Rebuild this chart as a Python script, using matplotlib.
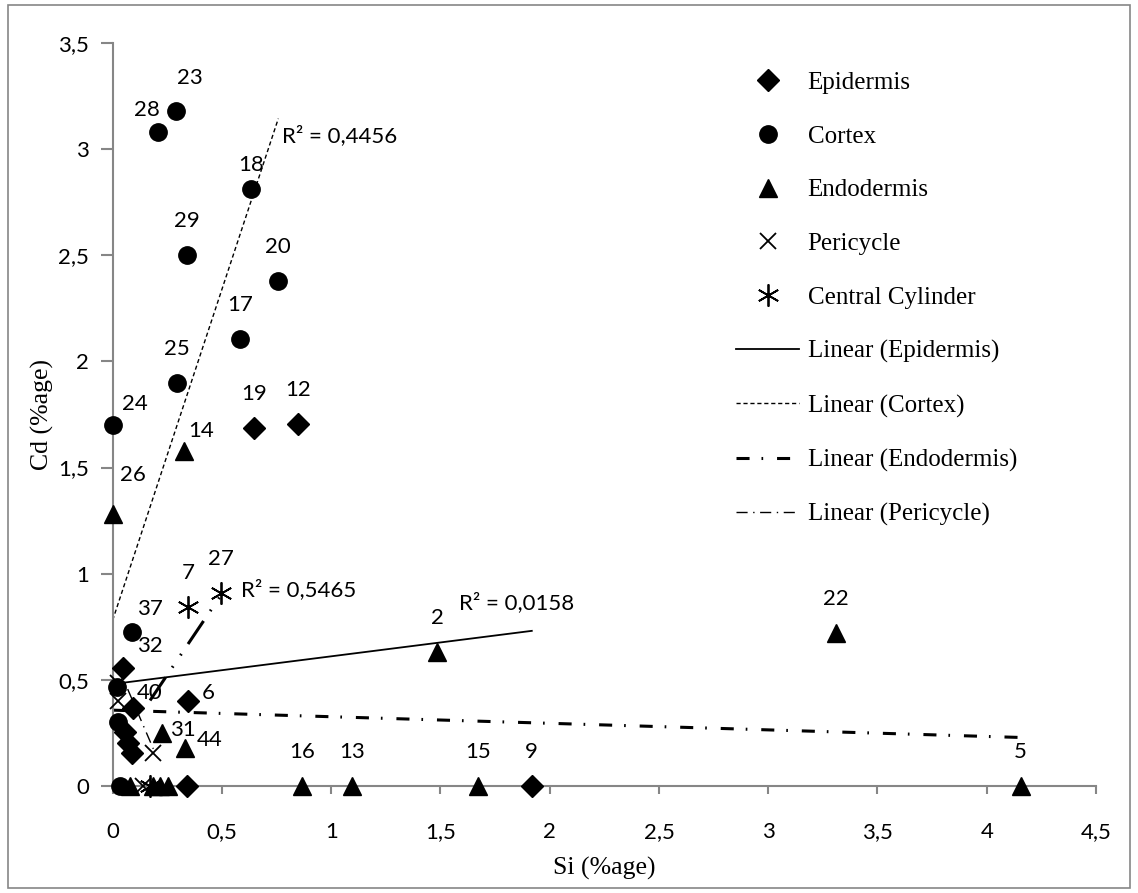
import matplotlib
matplotlib.use('Agg')
import matplotlib.pyplot as plt
from matplotlib.lines import Line2D
from matplotlib.patches import Rectangle
from matplotlib.ticker import FuncFormatter
import numpy as np

plt.rcParams['lines.scale_dashes'] = False

# --- data ---
epi_x = [0.647, 0.847, 0.346, 1.918, 0.049, 0.094, 0.056, 0.071, 0.087, 0.339]
epi_y = [1.684, 1.703, 0.40, 0.0, 0.553, 0.365, 0.255, 0.20, 0.153, 0.0]
epi_lab = ['19', '12', '6', '9', '32', '', '', '', '', '']

cor_x = [0.288, 0.209, 0.634, 0.339, 0.758, 0.583, 0.296, 0.0, 0.087, 0.018, 0.026, 0.033]
cor_y = [3.181, 3.083, 2.812, 2.501, 2.380, 2.106, 1.900, 1.700, 0.726, 0.467, 0.302, 0.0]
cor_lab = ['23', '28', '18', '29', '20', '17', '25', '24', '37', '40', '', '']

endo_x = [0.326, 0.0, 1.486, 3.31, 4.155, 0.865, 1.094, 1.673, 0.224, 0.331, 0.08, 0.186, 0.216, 0.254]
endo_y = [1.576, 1.281, 0.63, 0.721, 0.0, 0.0, 0.0, 0.0, 0.247, 0.176, 0.0, 0.0, 0.0, 0.0]
endo_lab = ['14', '26', '2', '22', '5', '16', '13', '15', '31', '44', '', '', '', '']

peri_x = [0.026, 0.026, 0.186, 0.14]
peri_y = [0.483, 0.40, 0.153, 0.0]
peri_lab = ['', '', '', '']

cc_x = [0.346, 0.494, 0.171]
cc_y = [0.841, 0.91, 0.0]
cc_lab = ['7', '27', '']

# linear trend lines as shown (intercept, slope, R²)
trend_names = ['Epidermis', 'Cortex', 'Endodermis', 'Pericycle', 'Central Cylinder']
trend_intercept = [0.479, 0.78, 0.356, 0.62, 0.14]
trend_slope = [0.1308, 3.12, -0.031, -2.4, 1.53]
trend_r2 = ['0,0158', '0,4456', '', '', '0,5465']

# label offsets in pixels (dx, dy), default is straight above
label_offset = {'23': (14, 33), '28': (-11, 22), '18': (0, 24), '24': (22, 21),
                '14': (17, 20), '26': (20, 39), '37': (18, 23), '32': (27, 22),
                '40': (33, -6), '6': (20, 8), '31': (21, 3), '44': (25, 8)}
r2_offset = [(-73, 28), (4, -17), None, None, (20, 6)]

sans = 'Lato'
serif = 'Liberation Serif'
grey = '#868686'
fs = 16

fig = plt.figure(figsize=(11.38, 8.93), dpi=100)
ax = fig.add_axes([0.099, 0.1202, 0.8641, 0.8313])
fig.patches.append(Rectangle((0.007, 0.006), 0.986, 0.988, transform=fig.transFigure,
                             fill=False, edgecolor=grey, lw=1.2))

series = [
    (epi_x, epi_y, epi_lab, dict(marker='D', ms=11)),
    (cor_x, cor_y, cor_lab, dict(marker='o', ms=12.5)),
    (endo_x, endo_y, endo_lab, dict(marker='^', ms=13.5)),
    (peri_x, peri_y, peri_lab, dict(marker='x', ms=11.5, mew=1.3)),
    (cc_x, cc_y, cc_lab, dict(marker=(6, 2, 0), ms=16, mew=1.3)),
]
line_styles = [
    dict(lw=1.3, ls='-'),
    dict(lw=1.0, ls=(0, (3, 2))),
    dict(lw=2.2, ls=(0, (9.4, 8.6, 1.2, 10))),
    dict(lw=1.0, ls=(0, (8, 4, 1, 4))),
    dict(lw=2.2, ls=(0, (20, 8.6, 1.2, 9.4, 1.2, 8.6))),
]

# trend lines over each series' x range
for (xs, ys, labs, st), a, b, r2, off, ls in zip(series, trend_intercept, trend_slope,
                                                 trend_r2, r2_offset, line_styles):
    xx = np.array([min(xs), max(xs)])
    ax.plot(xx, a + b * xx, color='black', zorder=2, **ls)
    if r2:
        ax.annotate('R² = ' + r2, (xx[1], a + b * xx[1]), xytext=off,
                    textcoords='offset pixels', ha='left', va='center',
                    fontsize=fs, family=sans)

# points and their labels
for xs, ys, labs, st in series:
    ax.plot(xs, ys, ls='none', color='black', mfc='black', mec='black',
            clip_on=False, zorder=3, **st)
    for x, y, t in zip(xs, ys, labs):
        if t:
            dx, dy = label_offset.get(t, (0, 34))
            ax.annotate(t, (x, y), xytext=(dx, dy), textcoords='offset pixels',
                        ha='center', va='center', fontsize=fs, family=sans)

ax.set_xlim(0, 4.5)
ax.set_ylim(0, 3.5)
ax.set_xticks(np.arange(0, 4.51, 0.5))
ax.set_yticks(np.arange(0, 3.51, 0.5))
fmt = FuncFormatter(lambda v, p: ('%g' % v).replace('.', ','))
ax.xaxis.set_major_formatter(fmt)
ax.yaxis.set_major_formatter(fmt)
for lab in ax.get_xticklabels() + ax.get_yticklabels():
    lab.set_family(sans)
    lab.set_fontsize(fs)
ax.tick_params(axis='x', length=6, width=1.5, color=grey, pad=20)
ax.tick_params(axis='y', length=9, width=1.5, color=grey, pad=8)
for s in ['top', 'right']:
    ax.spines[s].set_visible(False)
for s in ['left', 'bottom']:
    ax.spines[s].set_color(grey)
    ax.spines[s].set_linewidth(1.5)

ax.set_xlabel('Si (%age)', family=serif, fontsize=18.5, labelpad=11)
ax.set_ylabel('Cd (%age)', family=serif, fontsize=18.5, labelpad=3)

# legend
handles = []
for (xs, ys, labs, st), name in zip(series, trend_names):
    handles.append(Line2D([], [], ls='none', color='black', label=name, **st))
for ls, name in zip(line_styles[:4], trend_names[:4]):
    handles.append(Line2D([], [], color='black', label='Linear (%s)' % name, **ls))
fig.legend(handles=handles, loc='upper left', bbox_to_anchor=(0.636, 0.934),
           frameon=False, prop={'family': serif, 'size': 18}, handlelength=2.5,
           handletextpad=0.35, labelspacing=1.25, borderpad=0)

fig.savefig('out.png', dpi=100)
